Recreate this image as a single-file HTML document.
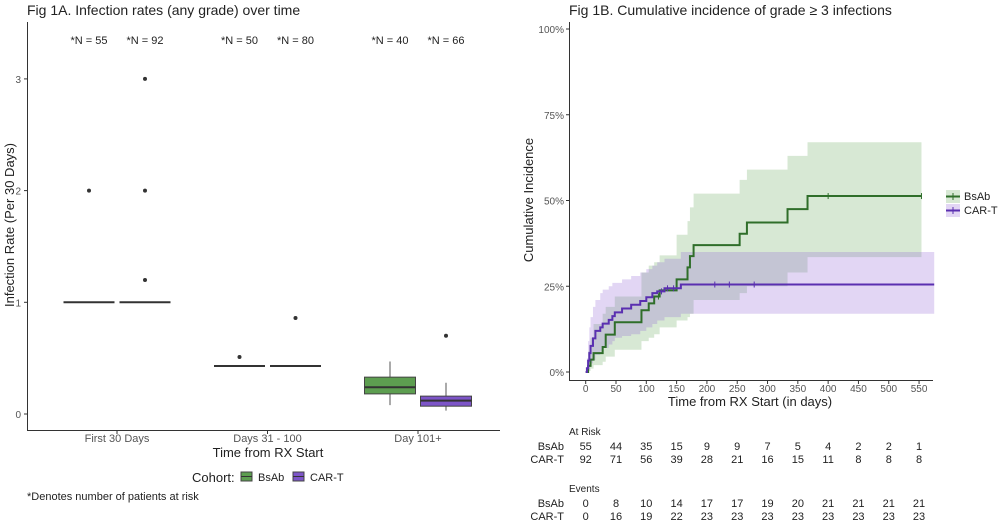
<!DOCTYPE html>
<html><head><meta charset="utf-8"><style>
html,body{margin:0;padding:0;background:#fff;}
svg{display:block;font-family:"Liberation Sans",Arial,sans-serif;}
</style></head><body>
<svg id="c" width="1000" height="523" viewBox="0 0 1000 523"></svg>
<script>
// ---- Fig 1A data ----
const categories = ["First 30 Days","Days 31 - 100","Day 101+"];
const nLabelsBsAb = ["*N = 55","*N = 50","*N = 40"];
const nLabelsCart = ["*N = 92","*N = 80","*N = 66"];
// [lowWhisker, q1, median, q3, highWhisker]
const boxBsAb = [[1,1,1,1,1],[0.43,0.43,0.43,0.43,0.43],[0.08,0.18,0.24,0.33,0.47]];
const boxCart = [[1,1,1,1,1],[0.43,0.43,0.43,0.43,0.43],[0.03,0.07,0.12,0.16,0.28]];
const outBsAb = [[2],[0.51],[]];
const outCart = [[3,2,1.2],[0.86],[0.7]];
const yTicksA = [0,1,2,3];
// ---- Fig 1B data ----
const xTicksB = [0,50,100,150,200,250,300,350,400,450,500,550];
const yTicksB = [0,25,50,75,100];
const bsT = [0,4,8,13,28,33,48,92,104,113,122,150,168,172,178,254,266,333,366];
const bsV = [0,1.8,3.6,5.5,7.3,10.9,14.5,18,20,22,23.8,27,30.5,33.8,37,40.3,43.6,47.5,51.3];
const bsEnd = 554;
const bsUp = [0,6,10,14,17,19,22,29,31,32,34,40,44,48,52,56,59,63,67];
const bsLo = [0,0.3,1,2,3,4.5,6.5,9,10,11,13,15,16,17,21,23,25,29,33.5];
const bsCens = [120,400,554];
const ctT = [0,2,4,6,8,12,16,24,28,38,44,48,60,75,90,100,110,118,130,157];
const ctV = [0,1.1,3.3,5.5,7.6,9.8,12,13,14.1,15.2,16.3,17.4,18.5,19.6,20.7,21.8,23,23.5,24.4,25.5];
const ctEnd = 575;
const ctUp = [0,4,9,13,16,19,21,23,24,25,26,26,27,28,29,30,31,32,33,35];
const ctLo = [0,0,0.5,1.5,2.5,3.5,5,6,7,8,9,10,10.5,11,12,13,14,15,16,17];
const ctCens = [125,135,145,213,237,278];
const riskCols = [0,50,100,150,200,250,300,350,400,450,500,550];
const riskBsAb = [55,44,35,15,9,9,7,5,4,2,2,1];
const riskCart = [92,71,56,39,28,21,16,15,11,8,8,8];
const evBsAb = [0,8,10,14,17,17,19,20,21,21,21,21];
const evCart = [0,16,19,22,23,23,23,23,23,23,23,23];

const G="#4f9a47", GD="#2f6e2a", P="#7e4fd0", PD="#5a2fb0";
const svg=document.getElementById('c');
const NS="http://www.w3.org/2000/svg";
function el(tag,attrs,parent,text){const e=document.createElementNS(NS,tag);for(const k in attrs)e.setAttribute(k,attrs[k]);if(text!==undefined)e.textContent=text;(parent||svg).appendChild(e);return e;}
function txt(x,y,s,size,fill,anchor,parent){return el('text',{x:x,y:y,'font-size':size,fill:fill,'text-anchor':anchor||'middle'},parent,s);}

// ===== Fig 1A =====
const gA=el('g',{});


const yA=v=>414-v*111.7;
const xA=i=>117+i*150.5;
const t1=txt(27,15,"Fig 1A. Infection rates (any grade) over time",14,"#222","start",gA);

el('line',{x1:27.5,y1:22,x2:27.5,y2:430,stroke:"#333",'stroke-width':1},gA);
el('line',{x1:27,y1:430.5,x2:500,y2:430.5,stroke:"#333",'stroke-width':1},gA);
yTicksA.forEach(v=>{el('line',{x1:24,x2:27,y1:yA(v),y2:yA(v),stroke:"#333"},gA);txt(21,yA(v)+4,String(v),10,"#555","end",gA);});
categories.forEach((c,i)=>{el('line',{x1:xA(i),x2:xA(i),y1:430,y2:434,stroke:"#333"},gA);const t=txt(xA(i),442,c,11,"#555","middle",gA);});
const xt=txt(268,457,"Time from RX Start",13,"#222","middle",gA);

const yt=el('text',{x:0,y:0,'font-size':13,fill:"#222",'text-anchor':'middle',transform:'translate(14,225) rotate(-90)'},gA,"Infection Rate (Per 30 Days)");

function drawBox(cx,b,fill,outs,name){
  const g=el('g',{},gA);
  
  
  const w=51;
  el('line',{x1:cx,x2:cx,y1:yA(b[4]),y2:yA(b[3]),stroke:"#555"},g);
  el('line',{x1:cx,x2:cx,y1:yA(b[1]),y2:yA(b[0]),stroke:"#555"},g);
  const h=yA(b[1])-yA(b[3]);
  if(h>0.5) el('rect',{x:cx-w/2,y:yA(b[3]),width:w,height:h,fill:fill,stroke:"#444",'stroke-width':1},g);
  el('line',{x1:cx-w/2,x2:cx+w/2,y1:yA(b[2]),y2:yA(b[2]),stroke:"#333",'stroke-width':2},g);
  outs.forEach(o=>el('circle',{cx:cx,cy:yA(o),r:2,fill:"#333"},g));
}
categories.forEach((c,i)=>{
  drawBox(xA(i)-28,boxBsAb[i],"#5d9e50",outBsAb[i],'box-bsab-'+i);
  drawBox(xA(i)+28,boxCart[i],"#7d55c8",outCart[i],'box-cart-'+i);
  const a=txt(xA(i)-28,44,nLabelsBsAb[i],11,"#222","middle",gA);
  const b=txt(xA(i)+28,44,nLabelsCart[i],11,"#222","middle",gA);
});
const lg=el('g',{},gA);

txt(192,482,"Cohort:",13,"#222","start",lg);
el('rect',{x:241,y:472,width:11,height:9,fill:"#5d9e50",stroke:"#444"},lg);
el('line',{x1:241,x2:252,y1:476.5,y2:476.5,stroke:"#333"},lg);
txt(258,481,"BsAb",11,"#222","start",lg);
el('rect',{x:293,y:472,width:11,height:9,fill:"#7d55c8",stroke:"#444"},lg);
el('line',{x1:293,x2:304,y1:476.5,y2:476.5,stroke:"#333"},lg);
txt(310,481,"CAR-T",11,"#222","start",lg);
const fn=txt(27,500,"*Denotes number of patients at risk",11,"#222","start",gA);


// ===== Fig 1B =====
const gB=el('g',{});


const xB=d=>585.7+d*0.6061;
const yB=p=>372-p*3.43;
const t2=txt(569,15,"Fig 1B. Cumulative incidence of grade \u2265 3 infections",14,"#222","start",gB);

function stepPath(ts,vs,end){let d="M"+xB(ts[0])+","+yB(vs[0]);for(let i=1;i<ts.length;i++){d+="H"+xB(ts[i])+"V"+yB(vs[i]);}d+="H"+xB(end);return d;}
function bandPath(ts,up,lo,end){let d="M"+xB(ts[0])+","+yB(up[0]);for(let i=1;i<ts.length;i++){d+="H"+xB(ts[i])+"V"+yB(up[i]);}d+="H"+xB(end)+"V"+yB(lo[lo.length-1]);for(let i=ts.length-1;i>=1;i--){d+="H"+xB(ts[i])+"V"+yB(lo[i-1]);}d+="H"+xB(ts[0])+"Z";return d;}
const bb=el('path',{d:bandPath(bsT,bsUp,bsLo,bsEnd),fill:"rgba(95,165,85,0.25)"},gB);

const cb=el('path',{d:bandPath(ctT,ctUp,ctLo,ctEnd),fill:"rgba(140,90,210,0.25)"},gB);

const bl=el('path',{d:stepPath(bsT,bsV,bsEnd),fill:"none",stroke:GD,'stroke-width':2},gB);

const cl=el('path',{d:stepPath(ctT,ctV,ctEnd),fill:"none",stroke:PD,'stroke-width':2},gB);

function valAt(ts,vs,t){let v=vs[0];for(let i=0;i<ts.length;i++)if(ts[i]<=t)v=vs[i];return v;}
bsCens.forEach(t=>el('line',{x1:xB(t),x2:xB(t),y1:yB(valAt(bsT,bsV,t))-3,y2:yB(valAt(bsT,bsV,t))+3,stroke:GD},gB));
ctCens.forEach(t=>el('line',{x1:xB(t),x2:xB(t),y1:yB(valAt(ctT,ctV,t))-3,y2:yB(valAt(ctT,ctV,t))+3,stroke:PD},gB));
el('line',{x1:569.5,y1:22,x2:569.5,y2:380,stroke:"#333"},gB);
el('line',{x1:569,y1:380.5,x2:933,y2:380.5,stroke:"#333"},gB);
yTicksB.forEach(v=>{el('line',{x1:566,x2:569,y1:yB(v),y2:yB(v),stroke:"#333"},gB);txt(564,yB(v)+4,v+"%",10,"#555","end",gB);});
xTicksB.forEach(v=>{el('line',{x1:xB(v),x2:xB(v),y1:380,y2:384,stroke:"#333"},gB);txt(xB(v),392,String(v),10,"#555","middle",gB);});
const xt2=txt(750,406,"Time from RX Start (in days)",13,"#222","middle",gB);

const yt2=el('text',{x:0,y:0,'font-size':13,fill:"#222",'text-anchor':'middle',transform:'translate(533,200) rotate(-90)'},gB,"Cumulative Incidence");

const lg2=el('g',{},gB);

el('rect',{x:946,y:190,width:14,height:13,fill:"rgba(95,165,85,0.25)"},lg2);
el('line',{x1:946,x2:960,y1:196.5,y2:196.5,stroke:GD,'stroke-width':2},lg2);
el('line',{x1:953,x2:953,y1:193,y2:200,stroke:GD},lg2);
txt(964,200,"BsAb",11,"#222","start",lg2);
el('rect',{x:946,y:204,width:14,height:13,fill:"rgba(140,90,210,0.25)"},lg2);
el('line',{x1:946,x2:960,y1:210.5,y2:210.5,stroke:PD,'stroke-width':2},lg2);
el('line',{x1:953,x2:953,y1:207,y2:214,stroke:PD},lg2);
txt(964,214,"CAR-T",11,"#222","start",lg2);
// risk table
const tb=el('g',{},gB);

txt(569,435,"At Risk",10,"#222","start",tb);
txt(569,492,"Events",10,"#222","start",tb);
[["BsAb",riskBsAb,450],["CAR-T",riskCart,463],["BsAb",evBsAb,507],["CAR-T",evCart,520]].forEach(r=>{
  txt(564,r[2],r[0],11,"#222","end",tb);
  riskCols.forEach((d,i)=>txt(xB(d),r[2],String(r[1][i]),11,"#222","middle",tb));
});
</script>
</body></html>
